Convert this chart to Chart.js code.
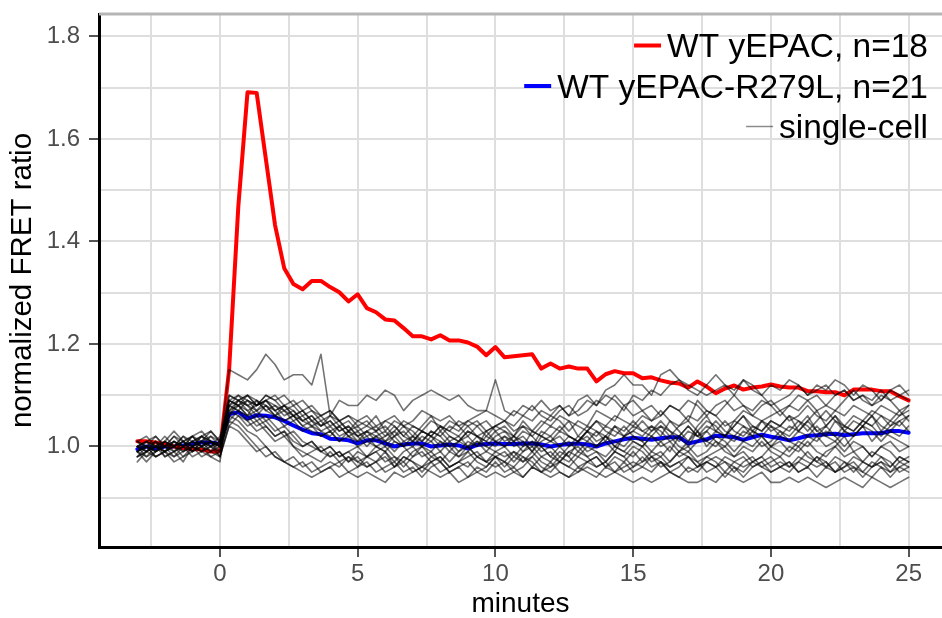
<!DOCTYPE html>
<html>
<head>
<meta charset="utf-8">
<title>yEPAC FRET ratio</title>
<script src="https://cdn.jsdelivr.net/npm/chart.js@4.4.1/dist/chart.umd.min.js"></script>
<style>
  html, body { margin: 0; padding: 0; background: #fff; }
  #wrap { width: 942px; height: 618px; position: relative; }
</style>
</head>
<body>
<div id="wrap"><canvas id="fret-chart"></canvas></div>
<script>
// one frame every 20 s, stimulus added at t = 0
const FRAME_SECONDS = 20;
const FIRST_MINUTE = -3;

const xGridMinutes = [-2.5, 0, 2.5, 5, 7.5, 10, 12.5, 15, 17.5, 20, 22.5, 25];
const xTickLabels = [0, 5, 10, 15, 20, 25];
const yGridRatios = [0.9, 1.0, 1.1, 1.2, 1.3, 1.4, 1.5, 1.6, 1.7, 1.8];
const yTickLabels = [1.0, 1.2, 1.4, 1.6, 1.8];

// mean traces (10 baseline frames, then 75 frames after t = 0)
const wtMean = [
  1.01, 1.01, 1.008, 1.005, 1.0, 0.997, 0.995, 0.994, 0.99, 0.99,
  1.15, 1.468, 1.691, 1.69, 1.561, 1.432, 1.348, 1.317, 1.307, 1.323, 1.323, 1.311, 1.301, 1.283, 1.297,
  1.27, 1.262, 1.248, 1.246, 1.231, 1.215, 1.215, 1.209, 1.217, 1.207, 1.207, 1.203, 1.195, 1.178, 1.194,
  1.174, 1.176, 1.178, 1.18, 1.152, 1.162, 1.152, 1.156, 1.152, 1.152, 1.127, 1.141, 1.147, 1.143, 1.143,
  1.133, 1.135, 1.129, 1.125, 1.123, 1.115, 1.127, 1.117, 1.104, 1.113, 1.119, 1.111, 1.115, 1.117, 1.121,
  1.117, 1.115, 1.115, 1.108, 1.108, 1.106, 1.106, 1.1, 1.111, 1.111, 1.111, 1.108, 1.108, 1.098, 1.09
];
const r279lMean = [
  0.995, 1.0, 0.996, 1.0, 1.0, 1.002, 1.005, 1.008, 1.008, 1.005,
  1.063, 1.067, 1.055, 1.061, 1.06, 1.057, 1.05, 1.041, 1.033, 1.026, 1.024, 1.015, 1.014, 1.012, 1.006,
  1.012, 1.012, 1.006, 1.0, 1.004, 1.006, 1.006, 1.0, 1.002, 1.004, 1.002, 0.996, 1.003, 1.005, 1.006,
  1.005, 1.005, 1.006, 1.006, 1.004, 1.0, 1.003, 1.005, 1.006, 1.004, 1.0, 1.006, 1.01, 1.014, 1.017,
  1.015, 1.013, 1.016, 1.018, 1.018, 1.006, 1.01, 1.014, 1.021, 1.02, 1.018, 1.013, 1.018, 1.023, 1.019,
  1.016, 1.012, 1.016, 1.021, 1.022, 1.024, 1.025, 1.022, 1.024, 1.026, 1.026, 1.026, 1.03, 1.03, 1.027
];

// single-cell traces, R279L
const r279lCells = [
  [1.00, 0.99, 1.01, 1.00, 1.00, 1.02, 1.01, 1.02, 1.01, 1.00,
   1.15, 1.14, 1.13, 1.15, 1.18, 1.16, 1.13, 1.14, 1.14, 1.12, 1.18, 1.06, 1.09, 1.08, 1.08,
   1.10, 1.09, 1.11, 1.10, 1.07, 1.09, 1.10, 1.11, 1.10, 1.09, 1.10, 1.08, 1.07, 1.07, 1.13,
   1.07, 1.06, 1.08, 1.07, 1.09, 1.07, 1.08, 1.06, 1.09, 1.10, 1.08, 1.11, 1.12, 1.14, 1.12,
   1.12, 1.10, 1.14, 1.15, 1.13, 1.12, 1.11, 1.10, 1.11, 1.12, 1.10, 1.13, 1.11, 1.10, 1.08,
   1.09, 1.10, 1.12, 1.10, 1.11, 1.12, 1.10, 1.11, 1.09, 1.10, 1.09, 1.11, 1.09, 1.10, 1.11],
  [0.99, 1.00, 0.99, 1.01, 1.00, 1.01, 1.00, 1.01, 1.02, 1.00,
   1.08, 1.09, 1.10, 1.08, 1.09, 1.10, 1.08, 1.09, 1.07, 1.08, 1.06, 1.07, 1.05, 1.06, 1.05,
   1.06, 1.04, 1.05, 1.06, 1.04, 1.05, 1.07, 1.06, 1.05, 1.06, 1.04, 1.05, 1.06, 1.07, 1.06,
   1.05, 1.07, 1.06, 1.08, 1.06, 1.05, 1.07, 1.08, 1.06, 1.07, 1.09, 1.08, 1.10, 1.08, 1.09,
   1.07, 1.08, 1.06, 1.08, 1.07, 1.09, 1.08, 1.06, 1.08, 1.09, 1.07, 1.08, 1.06, 1.08, 1.09,
   1.07, 1.08, 1.10, 1.09, 1.07, 1.08, 1.10, 1.11, 1.09, 1.10, 1.08, 1.09, 1.11, 1.10, 1.09],
  [1.01, 1.00, 1.02, 1.00, 0.99, 1.00, 1.01, 1.00, 1.01, 0.99,
   1.06, 1.09, 1.08, 1.07, 1.09, 1.08, 1.07, 1.06, 1.05, 1.06, 1.04, 1.05, 1.03, 1.04, 1.02,
   1.03, 1.04, 1.02, 1.03, 1.05, 1.04, 1.03, 1.02, 1.04, 1.03, 1.05, 1.04, 1.02, 1.03, 1.04,
   1.03, 1.02, 1.04, 1.03, 1.05, 1.04, 1.06, 1.05, 1.04, 1.03, 1.05, 1.04, 1.06, 1.05, 1.04,
   1.06, 1.05, 1.07, 1.05, 1.04, 1.06, 1.05, 1.07, 1.06, 1.04, 1.05, 1.07, 1.06, 1.05, 1.06,
   1.07, 1.05, 1.06, 1.08, 1.06, 1.05, 1.07, 1.06, 1.08, 1.07, 1.06, 1.08, 1.07, 1.06, 1.08],
  [0.98, 0.99, 1.00, 0.99, 1.01, 1.00, 0.99, 1.01, 1.00, 1.01,
   1.09, 1.08, 1.10, 1.09, 1.07, 1.08, 1.06, 1.07, 1.05, 1.04, 1.05, 1.03, 1.04, 1.02, 1.03,
   1.01, 1.02, 1.03, 1.01, 1.00, 1.02, 1.01, 1.03, 1.02, 1.00, 1.01, 1.03, 1.02, 1.01, 1.00,
   1.02, 1.01, 1.03, 1.02, 1.00, 1.01, 1.03, 1.02, 1.01, 1.03, 1.02, 1.04, 1.03, 1.02, 1.04,
   1.03, 1.02, 1.04, 1.03, 1.01, 1.03, 1.02, 1.04, 1.03, 1.05, 1.03, 1.02, 1.04, 1.03, 1.05,
   1.04, 1.03, 1.05, 1.04, 1.02, 1.04, 1.06, 1.04, 1.03, 1.05, 1.04, 1.06, 1.05, 1.04, 1.06],
  [1.00, 0.98, 0.99, 1.00, 1.01, 0.99, 1.00, 1.02, 1.01, 1.00,
   1.07, 1.09, 1.08, 1.06, 1.08, 1.07, 1.05, 1.06, 1.04, 1.03, 1.02, 1.03, 1.01, 1.02, 1.00,
   1.01, 1.00, 0.99, 1.01, 1.00, 0.98, 1.00, 0.99, 1.01, 1.00, 0.98, 0.99, 1.01, 1.00, 0.99,
   1.00, 0.98, 1.00, 1.01, 0.99, 1.00, 0.98, 1.00, 1.01, 0.99, 1.00, 1.02, 1.01, 1.00, 1.02,
   1.01, 0.99, 1.01, 1.02, 1.00, 0.99, 1.01, 1.03, 1.01, 1.00, 1.02, 1.01, 1.03, 1.02, 1.00,
   1.02, 1.01, 1.03, 1.02, 1.04, 1.02, 1.01, 1.03, 1.02, 1.04, 1.03, 1.01, 1.03, 1.02, 1.04],
  [0.99, 1.00, 0.98, 0.99, 1.00, 1.01, 0.99, 1.00, 1.01, 0.98,
   1.05, 1.04, 1.02, 1.00, 0.98, 0.99, 0.97, 0.96, 0.97, 0.95, 0.96, 0.97, 0.96, 0.98, 0.97,
   0.96, 0.97, 0.95, 0.96, 0.98, 0.97, 0.96, 0.97, 0.95, 0.96, 0.97, 0.96, 0.98, 0.97, 0.96,
   0.97, 0.96, 0.98, 0.97, 0.95, 0.96, 0.97, 0.96, 0.98, 0.97, 0.96, 0.97, 0.95, 0.96, 0.97,
   0.96, 0.98, 0.97, 0.96, 0.97, 0.95, 0.96, 0.97, 0.96, 0.98, 0.97, 0.96, 0.97, 0.98, 0.96,
   0.97, 0.96, 0.98, 0.97, 0.96, 0.97, 0.95, 0.96, 0.98, 0.97, 0.96, 0.97, 0.96, 0.98, 0.97],
  [1.00, 0.99, 1.01, 0.98, 0.99, 1.00, 0.98, 0.99, 1.00, 0.99,
   1.06, 1.05, 1.03, 1.02, 1.00, 0.98, 0.97, 0.96, 0.95, 0.94, 0.95, 0.96, 0.94, 0.95, 0.94,
   0.95, 0.94, 0.93, 0.95, 0.94, 0.95, 0.96, 0.95, 0.94, 0.95, 0.93, 0.94, 0.95, 0.94, 0.95,
   0.94, 0.95, 0.94, 0.96, 0.95, 0.94, 0.95, 0.94, 0.95, 0.96, 0.95, 0.94, 0.95, 0.94, 0.93,
   0.94, 0.93, 0.94, 0.95, 0.94, 0.93, 0.93, 0.94, 0.93, 0.95, 0.94, 0.93, 0.94, 0.95, 0.93,
   0.93, 0.94, 0.93, 0.94, 0.93, 0.92, 0.93, 0.94, 0.93, 0.92, 0.94, 0.93, 0.92, 0.93, 0.94],
  [0.98, 1.00, 0.99, 1.01, 0.99, 0.97, 1.00, 0.99, 1.01, 1.00,
   1.08, 1.07, 1.05, 1.06, 1.04, 1.02, 1.03, 1.00, 0.99, 0.98, 0.97, 0.99, 0.97, 0.98, 0.96,
   0.98, 0.97, 0.99, 0.96, 0.98, 0.97, 0.95, 0.97, 0.98, 0.96, 0.97, 0.99, 0.97, 0.96, 0.98,
   0.97, 0.99, 0.98, 0.96, 0.98, 0.97, 0.99, 0.98, 0.96, 0.97, 0.98, 0.96, 0.98, 0.97, 0.99,
   0.97, 0.98, 0.96, 0.97, 0.99, 0.98, 0.96, 0.97, 0.98, 0.97, 0.95, 0.97, 0.98, 0.96, 0.97,
   0.98, 0.96, 0.97, 0.99, 0.97, 0.96, 0.98, 0.97, 0.95, 0.97, 0.96, 0.98, 0.97, 0.95, 0.96],
  [1.01, 1.00, 1.00, 1.02, 1.00, 1.01, 1.02, 1.00, 1.01, 1.00,
   1.09, 1.10, 1.08, 1.09, 1.07, 1.06, 1.07, 1.05, 1.06, 1.04, 1.03, 1.04, 1.02, 1.03, 1.01,
   1.03, 1.02, 1.00, 1.02, 1.03, 1.01, 1.00, 1.02, 1.01, 0.99, 1.01, 1.02, 1.00, 1.03, 1.01,
   1.02, 1.00, 1.01, 0.99, 1.02, 1.01, 1.00, 0.98, 1.01, 1.02, 1.00, 1.01, 0.99, 1.02, 1.01,
   1.00, 1.02, 1.01, 0.99, 1.02, 1.00, 1.03, 1.01, 1.00, 1.02, 1.01, 1.03, 1.02, 1.00, 1.01,
   1.03, 1.01, 1.00, 1.02, 1.01, 1.03, 1.02, 1.00, 1.02, 1.04, 1.01, 1.03, 1.02, 1.01, 1.00],
  [0.99, 1.01, 1.00, 1.00, 1.02, 1.01, 1.00, 1.02, 1.03, 1.01,
   1.08, 1.07, 1.09, 1.08, 1.10, 1.09, 1.07, 1.08, 1.06, 1.07, 1.05, 1.06, 1.04, 1.05, 1.03,
   1.04, 1.03, 1.05, 1.04, 1.02, 1.04, 1.03, 1.05, 1.04, 1.03, 1.02, 1.04, 1.05, 1.03, 1.04,
   1.05, 1.03, 1.04, 1.02, 1.04, 1.06, 1.05, 1.03, 1.05, 1.04, 1.07, 1.06, 1.05, 1.08, 1.06,
   1.07, 1.05, 1.06, 1.08, 1.07, 1.05, 1.09, 1.07, 1.06, 1.08, 1.10, 1.08, 1.07, 1.09, 1.08,
   1.06, 1.08, 1.07, 1.09, 1.10, 1.08, 1.07, 1.09, 1.11, 1.09, 1.08, 1.10, 1.09, 1.07, 1.08],
  [0.99, 0.98, 1.00, 0.99, 0.98, 1.00, 1.01, 0.99, 1.00, 0.98,
   1.04, 1.06, 1.05, 1.03, 1.04, 1.02, 1.03, 1.01, 1.00, 1.01, 0.99, 1.00, 0.98, 0.99, 1.00,
   0.98, 0.99, 1.00, 0.98, 0.97, 0.99, 1.00, 0.98, 0.99, 0.97, 0.99, 1.00, 0.98, 0.99, 0.98,
   0.99, 0.97, 0.99, 1.00, 0.98, 0.99, 0.97, 0.99, 0.98, 1.00, 0.99, 0.98, 1.00, 0.99, 0.98,
   1.00, 0.98, 0.99, 0.97, 0.99, 1.00, 0.98, 0.99, 1.01, 0.99, 0.98, 1.00, 0.99, 1.01, 0.99,
   0.98, 1.00, 0.99, 1.01, 0.99, 0.98, 1.00, 1.02, 0.99, 1.00, 0.98, 1.00, 0.99, 0.97, 0.98],
  [1.00, 1.01, 0.99, 1.00, 1.02, 1.00, 1.01, 1.02, 1.00, 1.01,
   1.10, 1.09, 1.07, 1.08, 1.09, 1.07, 1.08, 1.06, 1.07, 1.05, 1.06, 1.04, 1.05, 1.03, 1.04,
   1.02, 1.03, 1.01, 1.02, 1.00, 1.01, 1.03, 1.02, 1.00, 1.02, 1.01, 1.00, 1.02, 1.01, 1.03,
   1.01, 1.02, 1.00, 1.03, 1.02, 1.01, 1.02, 1.00, 1.02, 1.01, 1.03, 1.02, 1.00, 1.02, 1.03,
   1.02, 1.04, 1.03, 1.01, 1.02, 1.04, 1.02, 1.03, 1.05, 1.03, 1.02, 1.04, 1.03, 1.05, 1.04,
   1.02, 1.04, 1.03, 1.05, 1.03, 1.04, 1.02, 1.04, 1.03, 1.05, 1.04, 1.02, 1.04, 1.05, 1.03],
  [0.98, 0.99, 1.00, 0.98, 0.99, 1.01, 0.99, 1.00, 0.98, 0.97,
   1.09, 1.08, 1.07, 1.05, 1.06, 1.04, 1.02, 1.03, 1.01, 1.00, 0.99, 1.00, 0.98, 0.99, 0.97,
   0.98, 0.99, 0.97, 0.98, 0.96, 0.98, 0.99, 0.97, 0.98, 0.96, 0.97, 0.98, 0.99, 0.97, 0.98,
   0.96, 0.98, 0.97, 0.99, 0.97, 0.96, 0.98, 0.97, 0.99, 0.98, 0.96, 0.97, 0.99, 0.98, 0.96,
   0.97, 0.99, 0.98, 0.96, 0.97, 0.98, 0.96, 0.98, 0.97, 0.95, 0.97, 0.98, 0.96, 0.97, 0.98,
   0.96, 0.95, 0.97, 0.96, 0.98, 0.97, 0.95, 0.96, 0.97, 0.95, 0.94, 0.96, 0.95, 0.97, 0.96],
  [1.01, 1.02, 1.00, 1.01, 1.03, 1.01, 1.02, 1.00, 1.02, 1.01,
   1.07, 1.08, 1.06, 1.09, 1.08, 1.06, 1.08, 1.07, 1.05, 1.06, 1.04, 1.06, 1.05, 1.03, 1.05,
   1.04, 1.06, 1.03, 1.05, 1.04, 1.02, 1.04, 1.06, 1.03, 1.05, 1.04, 1.02, 1.04, 1.05, 1.03,
   1.04, 1.02, 1.05, 1.03, 1.02, 1.04, 1.03, 1.05, 1.02, 1.04, 1.03, 1.01, 1.04, 1.03, 1.05,
   1.03, 1.04, 1.02, 1.05, 1.03, 1.01, 1.04, 1.06, 1.03, 1.02, 1.05, 1.04, 1.02, 1.05, 1.03,
   1.04, 1.06, 1.03, 1.05, 1.07, 1.04, 1.06, 1.03, 1.05, 1.04, 1.06, 1.03, 1.05, 1.07, 1.05],
  [0.99, 0.97, 0.99, 1.00, 0.98, 0.99, 1.00, 0.98, 0.99, 1.00,
   1.05, 1.07, 1.06, 1.04, 1.05, 1.03, 1.04, 1.02, 1.00, 1.01, 0.99, 0.98, 0.99, 0.97, 0.98,
   0.96, 0.97, 0.98, 0.96, 0.97, 0.95, 0.96, 0.98, 0.97, 0.95, 0.96, 0.97, 0.95, 0.96, 0.98,
   0.97, 0.95, 0.96, 0.98, 0.96, 0.95, 0.97, 0.96, 0.95, 0.97, 0.98, 0.96, 0.97, 0.95, 0.96,
   0.98, 0.96, 0.97, 0.95, 0.96, 0.98, 0.97, 0.95, 0.96, 0.97, 0.96, 0.94, 0.96, 0.97, 0.95,
   0.96, 0.97, 0.95, 0.96, 0.98, 0.96, 0.97, 0.95, 0.96, 0.94, 0.96, 0.97, 0.95, 0.96, 0.95],
  [1.00, 1.00, 1.01, 0.99, 1.00, 0.99, 1.01, 1.00, 0.99, 1.01,
   1.06, 1.08, 1.09, 1.07, 1.08, 1.06, 1.05, 1.06, 1.04, 1.05, 1.03, 1.02, 1.04, 1.02, 1.01,
   1.02, 1.00, 1.01, 1.03, 1.01, 1.00, 1.02, 1.01, 0.99, 1.01, 1.02, 1.00, 1.01, 0.99, 1.01,
   1.00, 1.02, 1.01, 0.99, 1.01, 1.02, 1.00, 1.02, 1.01, 1.03, 1.01, 1.02, 1.04, 1.02, 1.03,
   1.05, 1.03, 1.04, 1.02, 1.04, 1.05, 1.03, 1.05, 1.04, 1.02, 1.04, 1.06, 1.04, 1.03, 1.05,
   1.04, 1.06, 1.05, 1.03, 1.05, 1.07, 1.05, 1.04, 1.06, 1.05, 1.07, 1.06, 1.04, 1.06, 1.07],
  [1.00, 1.01, 1.00, 0.99, 1.01, 1.00, 1.02, 1.01, 1.00, 1.02,
   1.08, 1.10, 1.09, 1.08, 1.10, 1.09, 1.10, 1.08, 1.09, 1.07, 1.06, 1.07, 1.05, 1.06, 1.04,
   1.05, 1.03, 1.04, 1.02, 1.04, 1.03, 1.01, 1.03, 1.02, 1.04, 1.03, 1.05, 1.04, 1.02, 1.04,
   1.05, 1.04, 1.06, 1.05, 1.07, 1.06, 1.08, 1.06, 1.07, 1.09, 1.08, 1.10, 1.09, 1.07, 1.10,
   1.09, 1.11, 1.10, 1.12, 1.13, 1.11, 1.10, 1.12, 1.14, 1.12, 1.11, 1.13, 1.12, 1.10, 1.12,
   1.11, 1.13, 1.12, 1.10, 1.12, 1.11, 1.13, 1.12, 1.10, 1.12, 1.11, 1.09, 1.11, 1.12, 1.10],
  [1.01, 0.99, 1.00, 1.01, 1.00, 1.02, 1.00, 1.01, 1.03, 1.01,
   1.09, 1.08, 1.06, 1.07, 1.05, 1.06, 1.04, 1.05, 1.03, 1.04, 1.02, 1.03, 1.01, 1.03, 1.02,
   1.00, 1.02, 1.01, 0.99, 1.01, 1.02, 1.00, 1.01, 1.03, 1.01, 0.99, 1.01, 1.00, 1.02, 1.01,
   1.00, 1.01, 0.99, 1.01, 1.00, 0.98, 1.00, 1.01, 0.99, 1.01, 1.00, 1.02, 1.00, 0.99, 1.01,
   1.00, 1.02, 1.00, 1.01, 0.99, 1.01, 1.03, 1.00, 1.02, 1.01, 0.99, 1.01, 1.00, 1.02, 1.00,
   1.01, 0.99, 1.01, 1.00, 1.02, 1.00, 1.01, 0.99, 1.01, 1.00, 0.98, 1.00, 1.01, 0.99, 1.00],
  [0.97, 0.99, 0.98, 0.99, 0.97, 0.98, 1.00, 0.99, 0.98, 0.99,
   1.07, 1.06, 1.04, 1.05, 1.03, 1.01, 1.02, 1.00, 0.98, 0.99, 1.00, 0.98, 0.99, 0.97, 0.99,
   0.98, 1.00, 0.99, 0.97, 0.99, 1.00, 0.98, 0.99, 0.97, 0.99, 0.98, 1.00, 0.98, 0.97, 0.99,
   0.98, 0.99, 0.97, 0.98, 1.00, 0.98, 0.97, 0.99, 1.00, 0.98, 0.99, 0.97, 0.99, 0.98, 1.00,
   0.99, 0.97, 0.98, 1.00, 0.98, 0.99, 0.97, 0.98, 0.99, 1.00, 0.98, 0.99, 0.97, 0.98, 1.00,
   0.99, 0.98, 1.00, 0.98, 0.97, 0.99, 1.00, 0.98, 0.99, 0.97, 0.99, 0.98, 0.96, 0.98, 0.97],
  [1.00, 1.01, 1.02, 1.00, 1.01, 1.00, 1.02, 1.03, 1.01, 1.00,
   1.10, 1.09, 1.10, 1.08, 1.09, 1.07, 1.08, 1.06, 1.07, 1.05, 1.04, 1.05, 1.03, 1.04, 1.02,
   1.03, 1.01, 1.02, 1.04, 1.02, 1.01, 1.03, 1.02, 1.04, 1.02, 1.01, 1.03, 1.02, 1.00, 1.02,
   1.03, 1.01, 1.02, 1.00, 1.03, 1.02, 1.04, 1.02, 1.01, 1.03, 1.05, 1.03, 1.02, 1.04, 1.02,
   1.01, 1.03, 1.05, 1.03, 1.02, 1.04, 1.02, 1.01, 1.03, 1.02, 1.04, 1.06, 1.03, 1.02, 1.04,
   1.03, 1.02, 1.04, 1.06, 1.03, 1.02, 1.05, 1.03, 1.02, 1.04, 1.06, 1.04, 1.03, 1.05, 1.06],
  [0.99, 1.00, 0.98, 0.99, 1.00, 0.98, 0.99, 1.01, 0.99, 0.98,
   1.04, 1.03, 1.01, 0.99, 1.00, 0.98, 0.97, 0.98, 0.96, 0.97, 0.95, 0.96, 0.97, 0.95, 0.96,
   0.97, 0.95, 0.96, 0.97, 0.95, 0.96, 0.94, 0.96, 0.97, 0.95, 0.96, 0.94, 0.96, 0.95, 0.97,
   0.95, 0.96, 0.94, 0.96, 0.95, 0.97, 0.95, 0.94, 0.96, 0.95, 0.94, 0.96, 0.95, 0.97, 0.95,
   0.96, 0.95, 0.97, 0.95, 0.94, 0.96, 0.95, 0.97, 0.96, 0.94, 0.96, 0.95, 0.97, 0.96, 0.95,
   0.96, 0.97, 0.95, 0.96, 0.94, 0.96, 0.95, 0.97, 0.96, 0.95, 0.97, 0.96, 0.94, 0.96, 0.97]
];

const WT_LABEL = 'WT yEPAC, n=18';
const R279L_LABEL = 'WT yEPAC-R279L, n=21';
const CELL_LABEL = 'single-cell';

const RED = '#ff0000';
const BLUE = '#0000ff';
const CELL_GREY = 'rgba(0, 0, 0, 0.55)';
const FONT = '"Liberation Sans", Arial, Helvetica, sans-serif';

const minutes = wtMean.map((_, i) => FIRST_MINUTE + i * FRAME_SECONDS / 60);
const toPoints = (values) => values.map((y, i) => ({ x: minutes[i], y }));

const datasets = [
  ...r279lCells.map((cell) => ({
    label: CELL_LABEL,
    data: toPoints(cell),
    borderColor: CELL_GREY,
    borderWidth: 1.6,
    order: 0
  })),
  { label: WT_LABEL, data: toPoints(wtMean), borderColor: RED, borderWidth: 4, order: 1 },
  { label: R279L_LABEL, data: toPoints(r279lMean), borderColor: BLUE, borderWidth: 4, order: 2 }
];

const legendRows = [
  { text: WT_LABEL, color: RED, width: 4 },
  { text: R279L_LABEL, color: BLUE, width: 4 },
  { text: CELL_LABEL, color: 'rgba(0, 0, 0, 0.45)', width: 1.5 }
];

// legend sits inside the panel, top right, keys to the left of the text
const panelLegend = {
  id: 'panelLegend',
  afterDraw(chart) {
    const { ctx, chartArea } = chart;
    const right = chartArea.right - 14;
    ctx.save();
    ctx.font = '33.5px ' + FONT;
    ctx.textAlign = 'right';
    ctx.textBaseline = 'alphabetic';
    legendRows.forEach((row, i) => {
      const baseline = chartArea.top + 43 + i * 40.5;
      const textLeft = right - ctx.measureText(row.text).width;
      ctx.fillStyle = '#000';
      ctx.fillText(row.text, right, baseline);
      ctx.strokeStyle = row.color;
      ctx.lineWidth = row.width;
      ctx.beginPath();
      ctx.moveTo(textLeft - 33, baseline - 11.5);
      ctx.lineTo(textLeft - 6, baseline - 11.5);
      ctx.stroke();
    });
    ctx.restore();
  }
};

// grey rule along the top of the panel
const topRule = {
  id: 'topRule',
  beforeDatasetsDraw(chart) {
    const { ctx, chartArea } = chart;
    ctx.save();
    ctx.strokeStyle = '#b5b5b5';
    ctx.lineWidth = 3;
    ctx.beginPath();
    ctx.moveTo(chartArea.left, chartArea.top);
    ctx.lineTo(chartArea.right, chartArea.top);
    ctx.stroke();
    ctx.restore();
  }
};

new Chart(document.getElementById('fret-chart'), {
  type: 'line',
  data: { datasets },
  plugins: [topRule, panelLegend],
  options: {
    responsive: true,
    maintainAspectRatio: false,
    animation: false,
    devicePixelRatio: 1,
    layout: { padding: { top: 14, right: 0, bottom: 0, left: 0 } },
    elements: {
      point: { radius: 0, hoverRadius: 0 },
      line: { tension: 0, borderJoinStyle: 'round', borderCapStyle: 'round', fill: false }
    },
    plugins: {
      legend: { display: false },
      tooltip: { enabled: false }
    },
    scales: {
      x: {
        type: 'linear',
        min: -4.39,
        max: 26.21,
        afterBuildTicks: (scale) => { scale.ticks = xGridMinutes.map((v) => ({ value: v })); },
        afterFit: (scale) => { scale.height = 71; scale.paddingLeft = 0; scale.paddingRight = 0; },
        border: { color: '#000', width: 3 },
        grid: {
          color: '#dedede',
          lineWidth: 2,
          tickLength: 10,
          tickWidth: 2,
          tickColor: (c) => xTickLabels.includes(c.tick.value) ? '#555' : 'rgba(0,0,0,0)'
        },
        ticks: {
          autoSkip: false,
          maxRotation: 0,
          padding: 3,
          color: '#4d4d4d',
          font: { family: FONT, size: 24 },
          callback: (v) => xTickLabels.includes(v) ? String(v) : ''
        },
        title: {
          display: true,
          text: 'minutes',
          color: '#000',
          font: { family: FONT, size: 28, lineHeight: 1 },
          padding: { top: 0, bottom: 0 }
        }
      },
      y: {
        type: 'linear',
        min: 0.8039,
        max: 1.8439,
        afterBuildTicks: (scale) => { scale.ticks = yGridRatios.map((v) => ({ value: v })); },
        afterFit: (scale) => { scale.width = 99; scale.paddingTop = 0; scale.paddingBottom = 0; },
        border: { color: '#000', width: 3 },
        grid: {
          color: '#dedede',
          lineWidth: 2,
          tickLength: 10,
          tickWidth: 2,
          tickColor: (c) => yTickLabels.includes(c.tick.value) ? '#555' : 'rgba(0,0,0,0)'
        },
        ticks: {
          autoSkip: false,
          padding: 9,
          color: '#4d4d4d',
          font: { family: FONT, size: 24 },
          callback: (v) => yTickLabels.includes(v) ? v.toFixed(1) : ''
        },
        title: {
          display: true,
          text: 'normalized FRET ratio',
          color: '#000',
          font: { family: FONT, size: 29.5 },
          padding: { top: 5, bottom: 0 }
        }
      }
    }
  }
});
</script>
</body>
</html>
